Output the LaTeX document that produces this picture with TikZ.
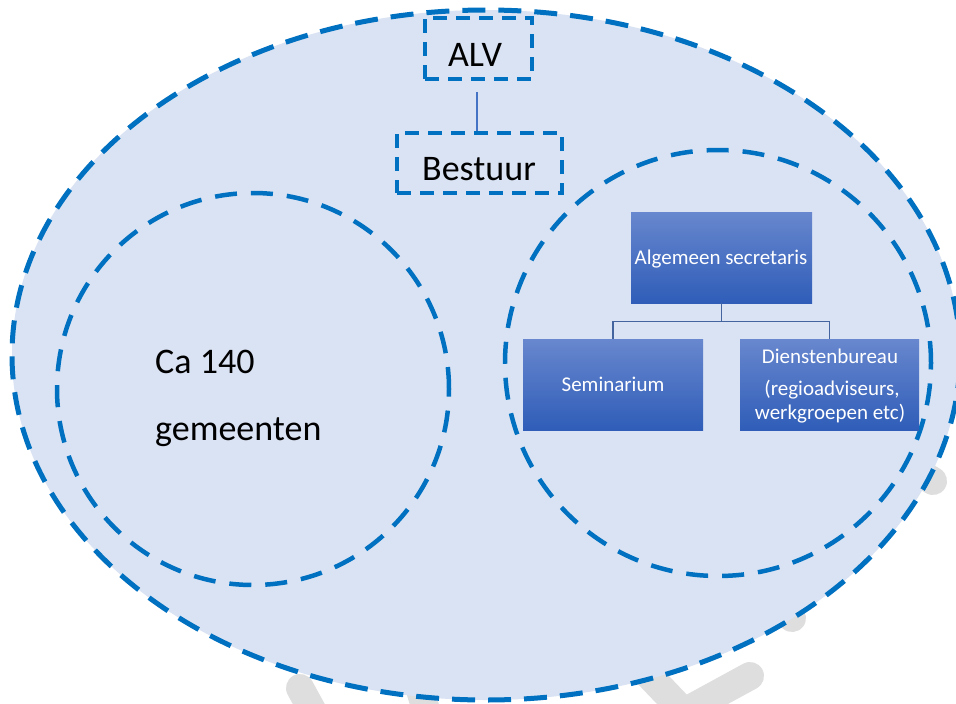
\documentclass[tikz,border=0pt]{standalone}
\usepackage{fontspec}
\setmainfont{Carlito}
\usetikzlibrary{shapes.geometric}
\definecolor{dblue}{RGB}{0,112,192}
\definecolor{fillblue}{RGB}{218,227,243}
\definecolor{wmgray}{RGB}{222,222,222}
\definecolor{boxtop}{RGB}{104,135,206}
\definecolor{boxbot}{RGB}{47,93,184}
\definecolor{orgline}{RGB}{68,100,160}
\definecolor{linkblue}{RGB}{68,114,196}
\begin{document}
\begin{tikzpicture}[x=1pt,y=-1pt,
 wm/.style={draw=wmgray, line width=28pt, line cap=round},
 bigdash/.style={draw=dblue, line width=5pt, dash pattern=on 23pt off 13pt},
 circdash/.style={draw=dblue, line width=4.5pt, dash pattern=on 22pt off 14pt},
 boxdash/.style={draw=dblue, line width=4pt, dash pattern=on 14pt off 9pt, rectangle, inner sep=0pt},
 orgbox/.style={rectangle, top color=boxtop, bottom color=boxbot, inner sep=0pt},
 bigtxt/.style={font=\fontsize{36}{43}\selectfont, inner sep=0pt, text=black},
 boxtxt/.style={font=\fontsize{21}{25}\selectfont, inner sep=0pt, text=white},
 orgconn/.style={draw=orgline, line width=1.3pt},
 link/.style={draw=linkblue, line width=2pt},
]
\useasboundingbox (0,0) rectangle (956,704);
\fill[white] (0,0) rectangle (956,704);
% watermark remnants behind the ellipse
\draw[wm] (300,688) -- (345,770);
\draw[wm] (420,690) -- (435,740);
\draw[wm, line join=miter] (642,668) -- (684,712) -- (750,676);
\draw[wm] (770,600) -- (792,618);
\draw[wm] (915,470) -- (933,481);
% main ellipse and circles
\node[ellipse, bigdash, fill=fillblue, minimum width=948pt, minimum height=690pt, inner sep=0pt] (org) at (486,355) {};
\node[circle, circdash, minimum size=392pt, inner sep=0pt] (gem) at (253,389) {};
\node[circle, circdash, minimum size=426pt, inner sep=0pt] (bureau) at (718,363) {};
% ALV and Bestuur
\node[boxdash, minimum width=107pt, minimum height=61pt] (alv) at (478.5,48.5) {};
\node[bigtxt, anchor=base] (alvt) at (475,66) {ALV};
\node[boxdash, minimum width=165pt, minimum height=60pt] (bestuur) at (479.5,163) {};
\node[bigtxt, anchor=base] (bestuurt) at (479,180) {Bestuur};
\draw[link] ([shift={(-1.5,11)}]alv.south) -- ([xshift=-2.5pt]bestuur.north);
% left circle text
\node[bigtxt, anchor=base west] (ca) at (155,373) {Ca 140};
\node[bigtxt, anchor=base west] (gm) at (155,440) {gemeenten};
% org chart
\node[orgbox, minimum width=181pt, minimum height=91pt] (sec) at (721.5,257.5) {};
\node[boxtxt, anchor=base] (sect) at (721,264) {Algemeen secretaris};
\node[orgbox, minimum width=180pt, minimum height=91pt] (sem) at (613,384.5) {};
\node[boxtxt, anchor=base] (semt) at (613,391) {Seminarium};
\node[orgbox, minimum width=179pt, minimum height=91pt] (dien) at (829.5,384.5) {};
\node[boxtxt, anchor=base] (dien1) at (830,363) {Dienstenbureau};
\node[boxtxt, anchor=base] (dien2) at (832,395) {(regioadviseurs,};
\node[boxtxt, anchor=base] (dien3) at (830,419) {werkgroepen etc)};
\draw[orgconn] (sec.south) -- ++(0,18) -| (sem.north);
\draw[orgconn] (sec.south) -- ++(0,18) -| (dien.north);
\end{tikzpicture}
\end{document}
